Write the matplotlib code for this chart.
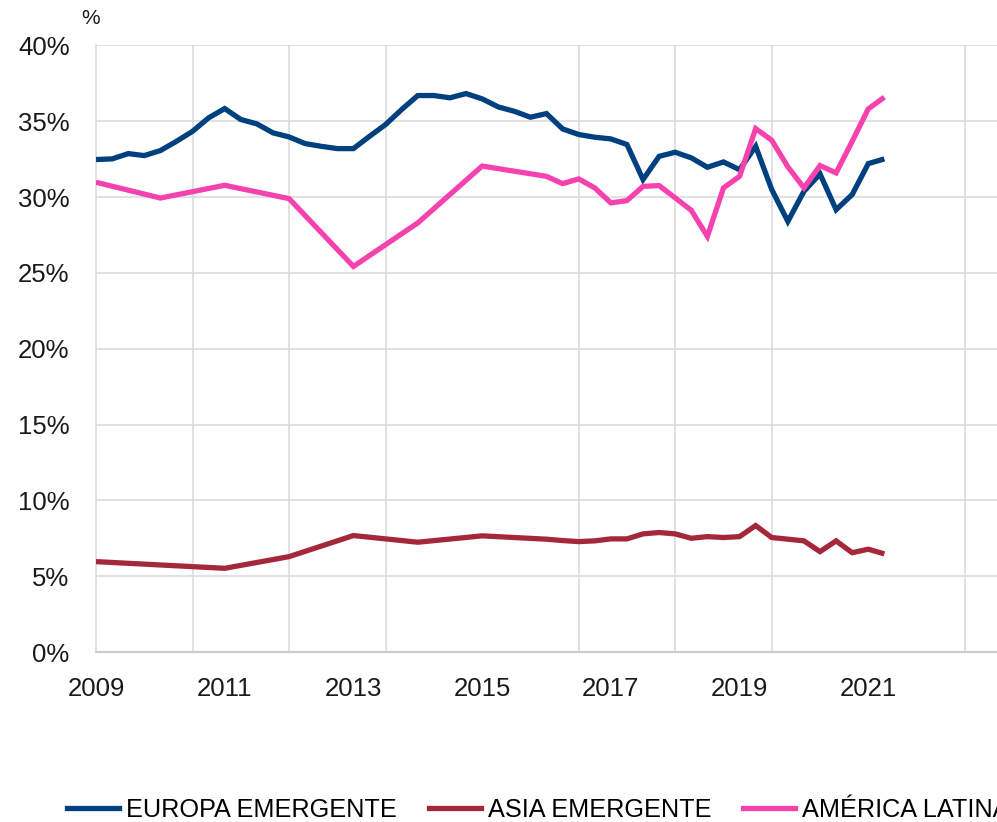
import matplotlib
matplotlib.use("Agg")
import matplotlib.pyplot as plt
from matplotlib.lines import Line2D
from matplotlib.ticker import FixedLocator, FuncFormatter

plt.rcParams['font.family'] = ['Liberation Sans', 'DejaVu Sans']

# quarter index: 0 = 2009 Q1
europa_q = list(range(0, 50))
europa = [32.48, 32.52, 32.87, 32.74, 33.07, 33.68, 34.34, 35.23, 35.84, 35.12,
          34.83, 34.24, 33.97, 33.53, 33.35, 33.20, 33.20, 34.01, 34.79, 35.78,
          36.70, 36.70, 36.55, 36.83, 36.48, 35.95, 35.66, 35.27, 35.51, 34.50,
          34.13, 33.95, 33.84, 33.47, 31.16, 32.69, 32.96, 32.59, 31.97, 32.32,
          31.81, 33.35, 30.50, 28.40, 30.38, 31.53, 29.17, 30.17, 32.21, 32.52]

asia_q = [0, 4, 8, 12, 16, 20, 24, 28] + list(range(29, 50))
asia = [5.96, 5.74, 5.52, 6.29, 7.68, 7.24, 7.66, 7.44,
        7.35, 7.28, 7.33, 7.46, 7.46, 7.79, 7.88, 7.79, 7.50, 7.61, 7.55,
        7.61, 8.34, 7.55, 7.44, 7.33, 6.62, 7.33, 6.55, 6.78, 6.47]

latam_q = [0, 4, 8, 12, 16, 20, 24, 28] + list(range(29, 50))
latam = [30.98, 29.94, 30.78, 29.90, 25.43, 28.30, 32.05, 31.37,
         30.89, 31.20, 30.61, 29.62, 29.77, 30.71, 30.76, 29.95, 29.13, 27.41, 30.61,
         31.37, 34.52, 33.75, 32.00, 30.61, 32.08, 31.60, 33.68, 35.82, 36.59]

series_names = ['EUROPA EMERGENTE', 'ASIA EMERGENTE', 'AMÉRICA LATINA']
colors = ['#00407f', '#a5283a', '#f542ae']

year_labels = ['2009', '2011', '2013', '2015', '2017', '2019', '2021']
y_ticks = [0, 5, 10, 15, 20, 25, 30, 35, 40]

fig = plt.figure(figsize=(9.97, 8.22), dpi=100)
ax = fig.add_axes([96/997, 1 - 652/822, 1 - 96/997, (652 - 45.5)/822])

for q, v, c in zip([europa_q, asia_q, latam_q], [europa, asia, latam], colors):
    ax.plot(q, v, color=c, lw=3.8, solid_joinstyle='miter', solid_capstyle='butt', zorder=3)

ax.set_xlim(0, 56)
ax.set_ylim(0, 40)

grid_c = '#d9d9d9'
ax.xaxis.set_major_locator(FixedLocator([8 * i for i in range(len(year_labels))]))
ax.set_xticklabels(year_labels)
ax.xaxis.set_minor_locator(FixedLocator(list(range(0, 56, 6))))
ax.grid(which='minor', axis='x', color=grid_c, lw=1.1)
ax.set_yticks(y_ticks)
ax.yaxis.set_major_formatter(FuncFormatter(lambda v, p: f'{int(v)}%'))
ax.grid(which='major', axis='y', color=grid_c, lw=1.1)
ax.set_axisbelow(True)

ax.tick_params(axis='both', which='both', length=0, labelsize=18.5, colors='#1a1a1a')
ax.tick_params(axis='y', pad=19)
ax.tick_params(axis='x', pad=18)

for s in ['top', 'right']:
    ax.spines[s].set_visible(False)
ax.spines['left'].set_color(grid_c)
ax.spines['left'].set_linewidth(1.1)
ax.spines['bottom'].set_color('#cccccc')
ax.spines['bottom'].set_linewidth(1.5)

fig.text(91/997, 1 - 18/822, '%', ha='center', va='center', fontsize=15, color='#1a1a1a')

handles = [Line2D([], [], color=c, lw=3.8) for c in colors]
fig.legend(handles, series_names, loc='center left', bbox_to_anchor=(67/997, 1 - 810/822),
           ncol=3, frameon=False, fontsize=18.2, handlelength=2.05, handletextpad=0.28,
           columnspacing=1.27, borderaxespad=0, borderpad=0)

fig.savefig('out.png', dpi=100)
